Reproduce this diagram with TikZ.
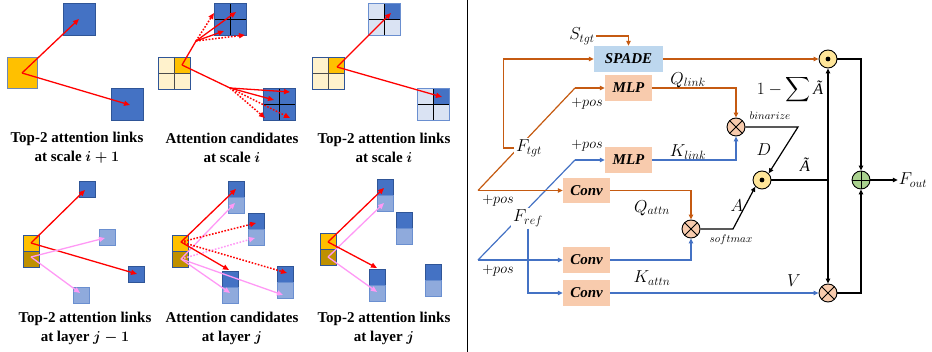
\documentclass[tikz,border=0pt]{standalone}
\usepackage{fontspec}
\setmainfont{Liberation Serif}
\usepackage{amsmath}
\DeclareMathSizes{16}{16}{12}{9}
\usetikzlibrary{arrows.meta,calc}
\definecolor{cyel}{HTML}{FFC000}
\definecolor{clyel}{HTML}{FFF2CC}
\definecolor{cdyel}{HTML}{BF9000}
\definecolor{cblue}{HTML}{4472C4}
\definecolor{cbluedk}{HTML}{2F5597}
\definecolor{cgridl}{HTML}{DAE3F3}
\definecolor{cstackl}{HTML}{8FAADC}
\definecolor{cstackb}{HTML}{6A8FD0}
\definecolor{cred}{HTML}{FF0000}
\definecolor{cpink}{HTML}{FF99F5}
\definecolor{corange}{HTML}{C55A11}
\definecolor{cspade}{HTML}{BDD7EE}
\definecolor{cpeach}{HTML}{F8CBAD}
\definecolor{cdot}{HTML}{FFE699}
\definecolor{cplus}{HTML}{A9D18E}
\newcommand{\mygrid}[6]{%
  \fill[#3] (#1,#2) rectangle ++(32,32);
  \fill[#4] (#1+16,#2) rectangle ++(16,16);
  \draw[#5, line width=0.9pt] (#1+16,#2) -- ++(0,32) (#1,#2+16) -- ++(32,0);
  \draw[#6, line width=0.8pt] (#1,#2) rectangle ++(32,32);}
\newcommand{\mystack}[4]{%
  \draw[fill=#3, draw=cbluedk, line width=0.7pt] (#1,#2) rectangle ++(16,16);
  \draw[fill=#4, draw=cbluedk, line width=0.7pt] (#1,#2+16) rectangle ++(16,16);}
\newcommand{\mystackb}[2]{%
  \draw[fill=cblue, draw=cbluedk, line width=0.7pt] (#1,#2) rectangle ++(16,16);
  \draw[fill=cstackl, draw=cstackb, line width=0.7pt] (#1,#2+16) rectangle ++(16,16);}
\begin{document}
\begin{tikzpicture}[x=1pt,y=-1pt,
  >={Triangle[length=5pt,width=4.5pt]},
  redarr/.style={draw=cred, line width=1.3pt, -{Triangle[length=6pt,width=5pt]}},
  redline/.style={draw=cred, line width=1.3pt},
  reddot/.style={draw=cred, line width=1.5pt, dash pattern=on 1.6pt off 1.6pt, -{Triangle[length=6pt,width=5pt]}},
  pinkarr/.style={draw=cpink, line width=1.3pt, -{Triangle[length=6pt,width=5pt]}},
  pinkdot/.style={draw=cpink, line width=1.5pt, dash pattern=on 1.6pt off 1.6pt, -{Triangle[length=6pt,width=5pt]}},
  capt/.style={font=\fontsize{15}{19}\selectfont\bfseries\boldmath, align=center, inner sep=0pt},
  ol/.style={draw=corange, line width=1.2pt},
  bl/.style={draw=cblue, line width=1.2pt},
  kl/.style={draw=black, line width=1.2pt},
  opbox/.style={minimum width=47pt, minimum height=26pt, inner sep=0pt, fill=cpeach, font=\fontsize{15}{18}\selectfont\bfseries\itshape},
  lbl/.style={font=\fontsize{16}{19}\selectfont, inner sep=1pt},
  poslbl/.style={font=\fontsize{15}{18}\selectfont, inner sep=1pt},
  smalllbl/.style={font=\fontsize{11}{13}\selectfont, inner sep=1pt},
  opcirc/.style={circle, draw=black, line width=0.9pt, minimum size=18pt, inner sep=0pt},
  otimesop/.style={opcirc, fill=cpeach, path picture={\draw[black, line width=0.9pt] (path picture bounding box.north west) -- (path picture bounding box.south east) (path picture bounding box.north east) -- (path picture bounding box.south west);}},
  odotop/.style={opcirc, fill=cdot, path picture={\fill[black] (path picture bounding box.center) circle (2.4pt);}},
  oplusop/.style={opcirc, fill=cplus, path picture={\draw[black, line width=0.9pt] (path picture bounding box.north) -- (path picture bounding box.south) (path picture bounding box.west) -- (path picture bounding box.east);}}
]
\useasboundingbox (0,0) rectangle (932,352);
\draw[line width=1pt] (467,0) -- (467,352);

% ---------- panel 1
\draw[fill=cyel, draw=cbluedk!70, line width=0.7pt] (7,57) rectangle (37,88);
\draw[fill=cblue, draw=cbluedk, line width=0.7pt] (63,3) rectangle (95,35);
\draw[fill=cblue, draw=cbluedk, line width=0.7pt] (111,88) rectangle (143,120);
\coordinate (p1o) at (22,73);
\coordinate (p1a) at (79,19);
\coordinate (p1b) at (130,105);
\draw[redarr] (p1o) -- (p1a);
\draw[redarr] (p1o) -- (p1b);
\node[capt] (cap1) at (77,147.5) {Top-2 attention links\\at scale $i+1$};

% ---------- panel 2
\mygrid{158}{57}{clyel}{cyel}{gray!60!black}{cbluedk}
\mygrid{214}{3}{cblue}{cblue}{black}{cbluedk}
\mygrid{263}{88}{cblue}{cblue}{black}{cbluedk}
\coordinate (p2o) at (182,65);
\coordinate (p2b) at (196,41);
\coordinate (p2c) at (230,88);
\draw[redline] (p2o) -- (p2b);
\draw[redline] (p2o) -- (p2c);
\draw[redarr] (p2b) -- (236,12);
\draw[redarr] (p2b) -- (224,31);
\draw[reddot] (p2b) -- (214,13);
\draw[reddot] (p2b) -- (245,35);
\draw[redarr] (p2c) -- (290,92);
\draw[redarr] (p2c) -- (274,100);
\draw[reddot] (p2c) -- (265,118);
\draw[reddot] (p2c) -- (290,118);
\node[capt] (cap2) at (232,147.5) {Attention candidates\\at scale $i$};

% ---------- panel 3
\mygrid{312}{57}{clyel}{cyel}{gray!60!black}{cbluedk}
\mygrid{368}{3}{cgridl}{cblue}{black}{cstackb}
\mygrid{417}{88}{cgridl}{cblue}{black}{cstackb}
\coordinate (p3o) at (337,67);
\draw[redarr] (p3o) -- (391,13);
\draw[redarr] (p3o) -- (442,97);
\node[capt] (cap3) at (384,147.5) {Top-2 attention links\\at scale $i$};

% ---------- panel 4
\mystack{23}{235}{cyel}{cdyel}
\draw[fill=cblue, draw=cbluedk, line width=0.7pt] (79,181) rectangle ++(16,16);
\draw[fill=cstackl, draw=cstackb, line width=0.7pt] (99,229) rectangle ++(16,16);
\draw[fill=cblue, draw=cbluedk, line width=0.7pt] (128,266) rectangle ++(16,16);
\draw[fill=cstackl, draw=cstackb, line width=0.7pt] (73,287) rectangle ++(16,16);
\coordinate (p4r) at (31,243);
\coordinate (p4p) at (31,257);
\draw[redarr] (p4r) -- (85,190);
\draw[redarr] (p4r) -- (137,274);
\draw[pinkarr] (p4p) -- (105,238);
\draw[pinkarr] (p4p) -- (80,293);
\node[capt] (cap4) at (85,328) {Top-2 attention links\\at layer $j-1$};

% ---------- panel 5
\mystack{172}{235}{cyel}{cdyel}
\mystackb{228}{181}
\mystackb{248}{213}
\mystackb{222}{271}
\mystackb{277}{266}
\coordinate (p5r) at (181,242);
\coordinate (p5p) at (181,259);
\draw[pinkarr] (p5p) -- (235,203);
\draw[pinkdot] (p5p) -- (255,238);
\draw[pinkarr] (p5p) -- (230,293);
\draw[pinkarr] (p5p) -- (283,295);
\draw[redarr] (p5r) -- (236,189);
\draw[reddot] (p5r) -- (256,223);
\draw[redarr] (p5r) -- (229,270);
\draw[reddot] (p5r) -- (287,273);
\node[capt] (cap5) at (232,328) {Attention candidates\\at layer $j$};

% ---------- panel 6
\mystack{320}{233}{cyel}{cdyel}
\mystackb{377}{179}
\mystackb{396}{212}
\mystackb{369}{269}
\mystackb{425}{264}
\coordinate (p6r) at (328,242);
\coordinate (p6p) at (328,257);
\draw[pinkarr] (p6p) -- (384,203);
\draw[pinkarr] (p6p) -- (377,292);
\draw[redarr] (p6r) -- (384,188);
\draw[redarr] (p6r) -- (377,268);
\node[capt] (cap6) at (384,328) {Top-2 attention links\\at layer $j$};

% ---------- right diagram
\node[opbox, fill=cspade, minimum width=69pt] (spade) at (628.5,59) {SPADE};
\node[opbox] (mlp1) at (628.5,88) {MLP};
\node[opbox] (mlp2) at (628.5,160) {MLP};
\node[opbox, minimum height=25pt] (conv1) at (586.5,190.5) {Conv};
\node[opbox] (conv2) at (586.5,260) {Conv};
\node[opbox] (conv3) at (586.5,293) {Conv};
\node[otimesop] (mx1) at (736,127) {};
\node[otimesop] (mx2) at (691,229) {};
\node[otimesop] (mx3) at (828,293) {};
\node[odotop] (md1) at (828,59) {};
\node[odotop] (md2) at (762,180) {};
\node[oplusop] (mp) at (861,180) {};

\coordinate (ot) at (478,190.5);
\coordinate (ok) at (575,88);
\coordinate (bt) at (478,260);
\coordinate (bk) at (575,160);
\draw[ol] (ok) -- (ot);
\draw[bl] (bk) -- (bt);
\draw[ol,->] (ot) -- (conv1.west);
\draw[ol,->] (ok) -- (mlp1.west);
\draw[bl,->] (bt) -- (conv2.west);
\draw[bl,->] (bk) -- (mlp2.west);

\node[lbl, fill=white, inner sep=2pt] (ftgt) at (529,148) {$F_{tgt}$};
\node[lbl, fill=white, inner sep=2pt] (fref) at (528,218) {$F_{ref}$};
\node[lbl] (stgt) at (582,36) {$S_{tgt}$};
\node[lbl] (fout) at (913,180) {$F_{out}$};

\draw[ol,->] (stgt.east) -| (spade.north);
\draw[ol,->] (ftgt.west) -- ++(-10,0) |- (spade.west);
\draw[bl,->] (fref.south) |- (conv3.west);

\draw[ol,->] (spade.east) -- (md1.west);
\draw[ol,->] (mlp1.east) -| (mx1.north);
\draw[bl,->] (mlp2.east) -| (mx1.south);
\draw[ol,->] (conv1.east) -| (mx2.north);
\draw[bl,->] (conv2.east) -| (mx2.south);
\draw[bl,->] (conv3.east) -- (mx3.west);

\coordinate (kb) at (798,127);
\coordinate (ks) at (733,229);
\coordinate (kj) at (828,180);
\draw[kl,->] (mx1.east) -- (kb) -- (md2.north east);
\draw[kl,->] (mx2.east) -- (ks) -- (md2.south west);
\draw[kl] (md2.east) -- (kj);
\draw[kl,<->] (md1.south) -- (mx3.north);
\draw[kl,->] (md1.east) -| (mp.north);
\draw[kl,->] (mx3.east) -| (mp.south);
\draw[kl,->] (mp.east) -- (fout.west);

\node[poslbl] (pos1) at (587,104) {$+pos$};
\node[poslbl] (pos2) at (587,146) {$+pos$};
\node[poslbl] (pos3) at (498,201) {$+pos$};
\node[poslbl] (pos4) at (498,271) {$+pos$};
\node[lbl] (qlink) at (688,80) {$Q_{link}$};
\node[lbl] (klink) at (688,152) {$K_{link}$};
\node[lbl] (qattn) at (652,208) {$Q_{attn}$};
\node[lbl] (kattn) at (652,278) {$K_{attn}$};
\node[lbl] (vl) at (794,281) {$V$};
\node[lbl] (dl) at (764,150) {$D$};
\node[lbl] (al) at (737,206) {$A$};
\node[lbl] (atl) at (805,165) {\itshape Ã};
\node[lbl, inner sep=0pt] (suml) at (790,90) {$\displaystyle 1-\sum$\,\itshape Ã};
\node[smalllbl] (binl) at (770,116) {$binarize$};
\node[smalllbl] (softl) at (731,240) {$softmax$};
\end{tikzpicture}
\end{document}
